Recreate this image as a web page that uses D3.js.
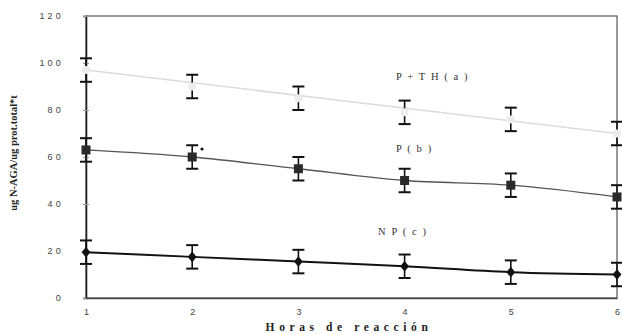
<!DOCTYPE html>
<html>
<head>
<meta charset="utf-8">
<script src="https://cdn.jsdelivr.net/npm/d3@7"></script>
<style>
  body { margin: 0; background: #fff; }
  svg { display: block; }
</style>
</head>
<body>
<div id="chart"></div>
<script>
var hours = [1, 2, 3, 4, 5, 6];
var yTicks = [0, 20, 40, 60, 80, 100, 120];

// medias y error (+/-)
var pth = [97, 90, 85, 79, 76, 70];
var pthErr = [5, 5, 5, 5, 5, 5];
var p = [63, 60, 55, 50, 48, 43];
var pErr = [5, 5, 5, 5, 5, 5];
var np = [19.5, 17.5, 15.5, 13.5, 11, 10];
var npErr = [5, 5, 5, 5, 5, 5];

var width = 622, height = 334;
var margin = { top: 16, right: 5, bottom: 36, left: 86 };

var svg = d3.select("#chart")
  .append("svg")
  .attr("width", width)
  .attr("height", height);

var x = d3.scaleLinear().domain([1, 6]).range([margin.left, width - margin.right]);
var y = d3.scaleLinear().domain([0, 120]).range([height - margin.bottom, margin.top]);

// marco
svg.append("rect")
  .attr("x", x(1)).attr("y", y(120))
  .attr("width", x(6) - x(1)).attr("height", y(0) - y(120))
  .attr("fill", "none").attr("stroke", "#555").attr("stroke-width", 1.2);

// eje y
svg.append("g")
  .attr("transform", "translate(" + x(1) + ",0)")
  .call(d3.axisLeft(y).tickValues(yTicks).tickSize(3).tickPadding(19))
  .call(function (g) { g.select(".domain").attr("stroke", "#222").attr("stroke-width", 1.6); })
  .call(function (g) { g.selectAll(".tick line").attr("x2", 3).attr("x1", -3).attr("stroke", "#999"); })
  .call(function (g) {
    g.selectAll(".tick text")
      .attr("font-family", "Liberation Sans, Arial, sans-serif")
      .attr("font-size", 9).attr("letter-spacing", 3.2).attr("fill", "#444");
  });

// eje x
svg.append("g")
  .attr("transform", "translate(0," + y(0) + ")")
  .call(d3.axisBottom(x).tickValues(hours).tickSize(0).tickPadding(11).tickFormat(d3.format("d")))
  .call(function (g) { g.select(".domain").attr("stroke", "#444").attr("stroke-width", 1.6); })
  .call(function (g) {
    g.selectAll(".tick text")
      .attr("font-family", "Liberation Sans, Arial, sans-serif")
      .attr("font-size", 9).attr("fill", "#444");
  });

svg.append("text")
  .attr("x", 349)
  .attr("y", 331)
  .attr("text-anchor", "middle")
  .attr("font-family", "Liberation Serif, serif")
  .attr("font-weight", "bold")
  .attr("font-size", 11.5)
  .attr("letter-spacing", 4.6)
  .attr("fill", "#222")
  .text("Horas de reacción");

svg.append("text")
  .attr("transform", "translate(17," + 153 + ") rotate(-90)")
  .attr("text-anchor", "middle")
  .attr("font-family", "Liberation Serif, serif")
  .attr("font-weight", "bold")
  .attr("font-size", 10.5)
  .attr("fill", "#222")
  .text("ug N-AGA/ug prot.total*t");

function errorBars(vals, errs, color) {
  var g = svg.append("g").attr("stroke", color).attr("stroke-width", 1.6);
  hours.forEach(function (h, i) {
    var cx = x(h);
    g.append("line").attr("x1", cx).attr("x2", cx)
      .attr("y1", y(vals[i] + errs[i])).attr("y2", y(vals[i] - errs[i]));
    [vals[i] + errs[i], vals[i] - errs[i]].forEach(function (v) {
      g.append("line").attr("x1", cx - 6).attr("x2", cx + 6)
        .attr("y1", y(v)).attr("y2", y(v)).attr("stroke-width", 2);
    });
  });
}

// P + TH (a): linea gris clara recta
svg.append("line")
  .attr("x1", x(1)).attr("y1", y(pth[0]))
  .attr("x2", x(6)).attr("y2", y(pth[5]))
  .attr("stroke", "#dcdcdc").attr("stroke-width", 1.5);
errorBars(pth, pthErr, "#111");
svg.append("g").selectAll("circle")
  .data(pth).join("circle")
  .attr("cx", function (d, i) { return x(hours[i]); })
  .attr("cy", function (d) { return y(d); })
  .attr("r", 4).attr("fill", "#ececec");

// P (b)
var line = d3.line()
  .x(function (d, i) { return x(hours[i]); })
  .y(function (d) { return y(d); })
  .curve(d3.curveMonotoneX);

svg.append("path").datum(p).attr("d", line)
  .attr("fill", "none").attr("stroke", "#555").attr("stroke-width", 1.3);
errorBars(p, pErr, "#111");
svg.append("g").selectAll("rect")
  .data(p).join("rect")
  .attr("x", function (d, i) { return x(hours[i]) - 4.5; })
  .attr("y", function (d) { return y(d) - 4.5; })
  .attr("width", 9).attr("height", 9)
  .attr("fill", "#2a2a2a");

// NP (c)
svg.append("path").datum(np).attr("d", line)
  .attr("fill", "none").attr("stroke", "#111").attr("stroke-width", 2);
errorBars(np, npErr, "#111");
svg.append("g").selectAll("path.dia")
  .data(np).join("path")
  .attr("transform", function (d, i) { return "translate(" + x(hours[i]) + "," + y(d) + ") scale(1.3,0.9)"; })
  .attr("d", d3.symbol().type(d3.symbolDiamond).size(40))
  .attr("fill", "#111");

// asterisco
svg.append("circle").attr("cx", 202).attr("cy", 149).attr("r", 1.6).attr("fill", "#111");

// etiquetas de series
var labels = [
  { t: "P + T H ( a )", x: 396, y: 80 },
  { t: "P ( b )", x: 396, y: 152 },
  { t: "N P ( c )", x: 378, y: 235 }
];
svg.append("g").selectAll("text")
  .data(labels).join("text")
  .attr("x", function (d) { return d.x; })
  .attr("y", function (d) { return d.y; })
  .attr("font-family", "Liberation Serif, serif")
  .attr("font-size", 10.5)
  .attr("letter-spacing", 1.6)
  .attr("fill", "#333")
  .text(function (d) { return d.t; });
</script>
</body>
</html>
